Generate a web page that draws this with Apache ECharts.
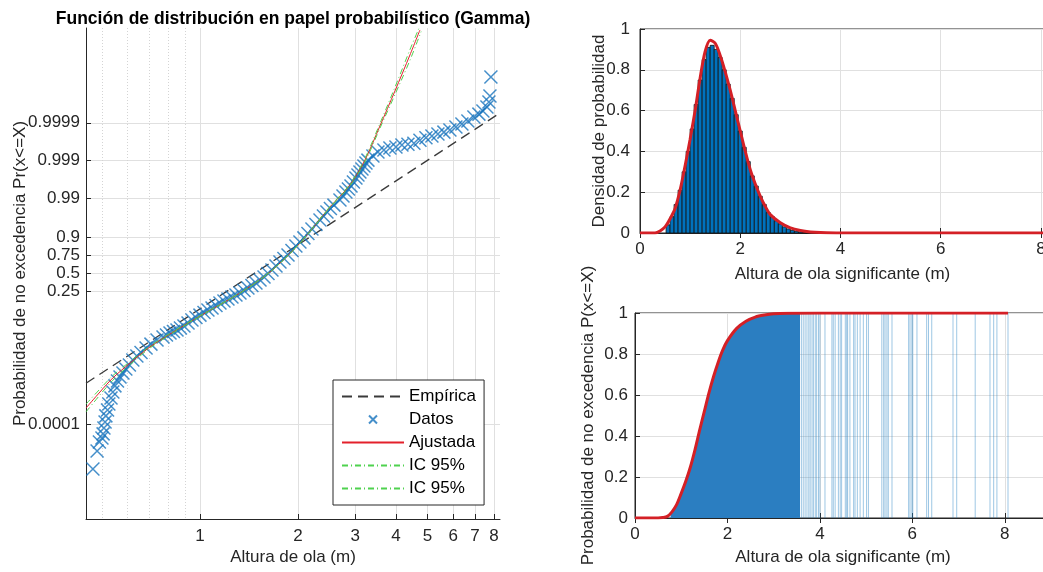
<!DOCTYPE html>
<html>
<head>
<meta charset="utf-8">
<script src="https://cdn.jsdelivr.net/npm/echarts@6/dist/echarts.min.js"></script>
<style>
  html, body { margin: 0; padding: 0; background: #fff; }
  #chart { width: 1043px; height: 572px; }
</style>
</head>
<body>
<div id="chart"></div>
<script>
// ---- Probability paper (left panel): wave height Hs (m) vs non-exceedance probability ----
const datosHs = [0.469, 0.483, 0.491, 0.500, 0.504, 0.507, 0.511, 0.514, 0.520, 0.525, 0.533, 0.540, 0.548, 0.558, 0.568, 0.580, 0.592, 0.607, 0.622, 0.640,
  0.659, 0.683, 0.707, 0.738, 0.770, 0.789, 0.809, 0.829, 0.850, 0.871, 0.893, 0.919, 0.945, 0.972, 1.000, 1.029, 1.058, 1.089, 1.120, 1.152,
  1.185, 1.219, 1.254, 1.290, 1.327, 1.365, 1.404, 1.444, 1.486, 1.529, 1.573, 1.618, 1.664, 1.712, 1.761, 1.811, 1.864, 1.917, 1.971, 2.028,
  2.086, 2.146, 2.208, 2.271, 2.337, 2.395, 2.455, 2.516, 2.580, 2.692, 2.750, 2.808, 2.858, 2.910, 2.961, 3.014, 3.057, 3.100, 3.145, 3.189,
  3.235, 3.281, 3.399, 3.522, 3.674, 3.833, 4.000, 4.173, 4.354, 4.542, 4.740, 4.945, 5.159, 5.383, 5.616, 5.859, 6.113, 6.378, 6.654, 6.942,
  7.193, 7.400, 7.613, 7.722, 7.777, 7.831];
const datosP = [6.5e-6, 1.96e-5, 3.39e-5, 4.31e-5, 5.55e-5, 7.94e-5, 1.15e-4, 1.67e-4, 2.39e-4, 3.46e-4, 4.95e-4, 7.17e-4, 1.04e-3, 1.40e-3, 1.80e-3, 2.28e-3, 2.93e-3, 3.72e-3, 5.06e-3, 6.43e-3,
  7.92e-3, 0.0104, 0.0132, 0.0170, 0.0202, 0.0228, 0.0258, 0.0281, 0.0308, 0.0346, 0.0388, 0.0463, 0.0552, 0.0637, 0.0730, 0.0845, 0.0971, 0.1083, 0.1245, 0.1417,
  0.157, 0.174, 0.192, 0.212, 0.233, 0.261, 0.291, 0.325, 0.359, 0.402, 0.448, 0.500, 0.552, 0.613, 0.668, 0.714, 0.756, 0.803, 0.843, 0.8726,
  0.898, 0.920, 0.938, 0.9523, 0.9634, 0.9711, 0.9772, 0.98149, 0.9849, 0.9889, 0.99128, 0.99318, 0.99430, 0.99527, 0.99627, 0.99707, 0.99757, 0.99797, 0.99831, 0.99860,
  0.99883, 0.99902, 0.99924, 0.99940, 0.99947, 0.99953, 0.99956, 0.99961, 0.99963, 0.99965, 0.99971, 0.99975, 0.999775, 0.999801, 0.999823, 0.999845, 0.999870, 0.999892, 0.9999105, 0.9999295,
  0.999941, 0.9999513, 0.9999617, 0.9999719, 0.9999804, 0.9999939];

const ajustadaHs = [0.4466, 0.493, 0.540, 0.610, 0.702, 0.809, 1.0, 1.327, 1.641, 2.028, 2.507, 2.888, 3.212, 3.571, 3.971, 4.416, 4.740];
const ajustadaP = [2.69e-4, 7.17e-4, 1.69e-3, 4.19e-3, 0.0111, 0.0241, 0.0691, 0.233, 0.523, 0.865, 0.9830, 0.99554, 0.99902, 0.999878, 0.9999856, 0.99999841, 0.999999655];

const icSupHs = [0.4466, 0.493, 0.540, 0.610, 0.702, 0.809, 1.0, 1.327, 1.641, 2.028, 2.507, 2.888, 3.212, 3.571, 3.971, 4.416, 4.700];
const icSupP = [3.42e-4, 8.6e-4, 1.95e-3, 4.6e-3, 0.0118, 0.0251, 0.0705, 0.235, 0.525, 0.867, 0.9835, 0.99575, 0.99912, 0.999895, 0.9999885, 0.99999885, 0.99999968];
const icInfHs = [0.4466, 0.493, 0.540, 0.610, 0.702, 0.809, 1.0, 1.327, 1.641, 2.028, 2.507, 2.888, 3.212, 3.571, 3.971, 4.416, 4.780];
const icInfP = [2.12e-4, 6.0e-4, 1.47e-3, 3.8e-3, 0.0104, 0.0231, 0.0677, 0.231, 0.521, 0.863, 0.9825, 0.99530, 0.99890, 0.999860, 0.999982, 0.9999978, 0.99999962];

const empiricaHs = [0.4466, 8.35];
const empiricaP = [0.00122, 0.999945];

const probTicks = [0.0001, 0.25, 0.5, 0.75, 0.9, 0.99, 0.999, 0.9999];
const probTickLabels = ['0.0001', '0.25', '0.5', '0.75', '0.9', '0.99', '0.999', '0.9999'];
const hsTicks = [1, 2, 3, 4, 5, 6, 7, 8];
const hsMinorTicks = [0.5, 0.6, 0.7, 0.8, 0.9];

// ---- Histogram and fitted density (top right) ----
const binWidth = 0.08;
const binCenters = [0.56, 0.64, 0.72, 0.80, 0.88, 0.96, 1.04, 1.12, 1.20, 1.28, 1.36, 1.44, 1.52, 1.60, 1.68, 1.76, 1.84, 1.92, 2.00, 2.08,
  2.16, 2.24, 2.32, 2.40, 2.48, 2.56, 2.64, 2.72, 2.80, 2.88, 2.96, 3.04, 3.12, 3.20, 3.28, 3.36];
const binHeights = [0.04, 0.08, 0.14, 0.21, 0.30, 0.40, 0.51, 0.63, 0.75, 0.85, 0.91, 0.92, 0.90, 0.86, 0.80, 0.73, 0.66, 0.58, 0.50, 0.42,
  0.35, 0.28, 0.23, 0.18, 0.14, 0.10, 0.08, 0.06, 0.045, 0.03, 0.02, 0.013, 0.008, 0.005, 0.003, 0.002];
const pdfHs = [0, 0.3, 0.4, 0.5, 0.6, 0.7, 0.8, 0.9, 1.0, 1.1, 1.2, 1.3, 1.4, 1.5, 1.6, 1.7, 1.8, 1.9, 2.0, 2.1,
  2.2, 2.3, 2.4, 2.5, 2.6, 2.8, 3.0, 3.2, 3.4, 3.6, 4.0, 5.0, 6.0, 7.0, 8.07];
const pdfVal = [0, 0, 0.01, 0.03, 0.07, 0.12, 0.21, 0.33, 0.46, 0.60, 0.76, 0.89, 0.945, 0.93, 0.87, 0.79, 0.70, 0.60, 0.50, 0.40,
  0.31, 0.24, 0.18, 0.13, 0.09, 0.05, 0.025, 0.012, 0.005, 0.002, 0, 0, 0, 0, 0];

// ---- Distribution function (bottom right) ----
const cdfHs = [0, 0.5, 0.6, 0.7, 0.8, 0.9, 1.0, 1.1, 1.2, 1.3, 1.4, 1.5, 1.6, 1.7, 1.8, 1.9, 2.0, 2.2, 2.4, 2.6, 2.8, 3.0, 3.3, 4.0, 8.07];
const cdfVal = [0, 0, 0.002, 0.008, 0.03, 0.065, 0.12, 0.18, 0.25, 0.335, 0.43, 0.52, 0.61, 0.69, 0.76, 0.82, 0.865, 0.925, 0.96, 0.98, 0.99, 0.996, 0.999, 1, 1];
const ecdfHs = [0.77, 0.8, 0.9, 1.0, 1.1, 1.2, 1.3, 1.4, 1.5, 1.6, 1.7, 1.8, 1.9, 2.0, 2.2, 2.4, 2.6, 2.8, 3.0, 3.3, 3.57];
const ecdfVal = [0.02, 0.03, 0.065, 0.12, 0.18, 0.25, 0.335, 0.43, 0.52, 0.61, 0.69, 0.76, 0.82, 0.865, 0.925, 0.96, 0.98, 0.99, 0.996, 0.999, 1];
const tailHs = [3.60, 3.64, 3.68, 3.72, 3.76, 3.79, 3.83, 3.86, 3.90, 3.93, 3.97, 4.00, 4.11, 4.26, 4.29, 4.33, 4.40, 4.44, 4.47, 4.55,
  4.58, 4.60, 4.65, 4.73, 4.76, 4.81, 4.87, 4.94, 5.01, 5.05, 5.34, 5.38, 5.41, 5.45, 5.48, 5.56, 5.92, 5.95, 5.99, 6.01,
  6.10, 6.31, 6.35, 6.42, 6.88, 6.96, 7.36, 7.68, 7.76, 7.83, 8.07];

// ---- styling helpers ----
const FONT = 'Liberation Sans, Arial, Helvetica, sans-serif';
const INK = '#262626';
const GRID_C = '#e0e0e0';
const FS = 17;
const logit = p => Math.log(p / (1 - p));
const pairs = (xs, ys, f) => xs.map((x, i) => [x, f ? f(ys[i]) : ys[i]]);
const probPairs = (xs, ps) => pairs(xs, ps, logit);

const labelStyle = { fontFamily: FONT, fontSize: FS, color: INK };
const nameStyle = { fontFamily: FONT, fontSize: FS, color: INK };

function linAxis(gridIndex, min, max, interval, ticks, extra) {
  return Object.assign({
    type: 'value', gridIndex, min, max, interval,
    axisLine: { show: true, onZero: false, lineStyle: { color: INK, width: 1 } },
    axisTick: { show: true, inside: true, length: 5, lineStyle: { color: INK }, customValues: ticks },
    axisLabel: Object.assign({ customValues: ticks }, labelStyle),
    splitLine: { show: true, lineStyle: { color: GRID_C, width: 1 } },
    nameTextStyle: nameStyle,
    nameLocation: 'middle',
    nameMoveOverlap: false
  }, extra || {});
}

const chart = echarts.init(document.getElementById('chart'), null, { renderer: 'canvas' });

const probTickValues = probTicks.map(logit);
const hiddenSymbol = { opacity: 0 };

const option = {
  animation: false,
  backgroundColor: '#fff',
  textStyle: { fontFamily: FONT },
  title: {
    text: 'Función de distribución en papel probabilístico (Gamma)',
    left: 288, top: 5, textAlign: 'center',
    textStyle: { fontFamily: FONT, fontSize: 17.5, fontWeight: 'bold', color: '#000' }
  },
  legend: {
    left: 333, top: 380, orient: 'vertical', align: 'left',
    itemWidth: 62, itemHeight: 14, itemGap: 6, padding: [8, 8, 8, 8],
    backgroundColor: '#fff', borderColor: INK, borderWidth: 1, borderRadius: 0,
    selectedMode: false, z: 20,
    textStyle: { fontFamily: FONT, fontSize: FS, color: '#000' },
    data: [
      { name: 'Empírica', itemStyle: hiddenSymbol },
      { name: 'Datos', icon: 'path://M0,0M14,14M3,3L11,11M11,3L3,11' },
      { name: 'Ajustada', itemStyle: hiddenSymbol },
      { name: 'IC 95%', itemStyle: hiddenSymbol },
      { name: 'IC 95% ', itemStyle: hiddenSymbol }
    ]
  },
  grid: [
    { left: 86, top: 28, width: 414, height: 491, show: false, outerBoundsMode: 'none' },
    { left: 640, top: 29, width: 405, height: 204, show: true, borderColor: INK, borderWidth: 1, backgroundColor: 'transparent', outerBoundsMode: 'none' },
    { left: 635, top: 313, width: 416, height: 205, show: true, borderColor: INK, borderWidth: 1, backgroundColor: 'transparent', outerBoundsMode: 'none' }
  ],
  xAxis: [
    {
      type: 'log', logBase: 10, gridIndex: 0, min: 0.4466, max: 8.35,
      axisLine: { show: true, onZero: false, lineStyle: { color: INK } },
      axisTick: { show: true, inside: true, length: 5, lineStyle: { color: INK }, customValues: hsTicks },
      axisLabel: Object.assign({ customValues: hsTicks, margin: 9 }, labelStyle),
      splitLine: { show: true, lineStyle: { color: GRID_C } },
      minorTick: { show: false }, minorSplitLine: { show: false },
      name: 'Altura de ola (m)', nameLocation: 'middle', nameGap: 30, nameTextStyle: nameStyle, nameMoveOverlap: false
    },
    {
      type: 'log', logBase: 10, gridIndex: 0, min: 0.4466, max: 8.35,
      axisLine: { show: false },
      axisTick: { show: false, customValues: hsMinorTicks },
      axisLabel: { show: false, customValues: hsMinorTicks },
      splitLine: { show: true, lineStyle: { color: '#d4d4d4', type: [1, 2] } }
    },
    linAxis(1, 0, 8.08, 2, [0, 2, 4, 6, 8], {
      name: 'Altura de ola significante (m)', nameGap: 33,
      axisLabel: Object.assign({ customValues: [0, 2, 4, 6, 8], margin: 8 }, labelStyle)
    }),
    linAxis(1, 0, 8.08, 2, [0, 2, 4, 6, 8], {
      position: 'top', axisLine: { show: false }, axisLabel: { show: false, customValues: [0, 2, 4, 6, 8] }, splitLine: { show: false }
    }),
    linAxis(2, 0, 9, 2, [0, 2, 4, 6, 8], {
      name: 'Altura de ola significante (m)', nameGap: 31,
      axisLabel: Object.assign({ customValues: [0, 2, 4, 6, 8], margin: 8 }, labelStyle)
    }),
    linAxis(2, 0, 9, 2, [0, 2, 4, 6, 8], {
      position: 'top', axisLine: { show: false }, axisLabel: { show: false, customValues: [0, 2, 4, 6, 8] }, splitLine: { show: false }
    })
  ],
  yAxis: [
    {
      type: 'value', gridIndex: 0, min: -15, max: 15,
      axisLine: { show: true, onZero: false, lineStyle: { color: INK } },
      axisTick: { show: true, inside: true, length: 5, lineStyle: { color: INK }, customValues: probTickValues },
      axisLabel: Object.assign({
        customValues: probTickValues, margin: 6,
        formatter: v => {
          const i = probTickValues.findIndex(t => Math.abs(t - v) < 1e-6);
          return i >= 0 ? probTickLabels[i] : '';
        }
      }, labelStyle),
      splitLine: { show: true, lineStyle: { color: GRID_C } },
      name: 'Probabilidad de no excedencia Pr(x<=X)', nameLocation: 'middle', nameGap: 57,
      nameTextStyle: nameStyle, nameMoveOverlap: false
    },
    linAxis(1, 0, 1, 0.2, [0, 0.2, 0.4, 0.6, 0.8, 1], {
      name: 'Densidad de probabilidad', nameGap: 32,
      axisLabel: Object.assign({ customValues: [0, 0.2, 0.4, 0.6, 0.8, 1], margin: 10 }, labelStyle)
    }),
    linAxis(2, 0, 1, 0.2, [0, 0.2, 0.4, 0.6, 0.8, 1], {
      name: 'Probabilidad de no excedencia P(x<=X)', nameGap: 38,
      axisLabel: Object.assign({ customValues: [0, 0.2, 0.4, 0.6, 0.8, 1], margin: 7 }, labelStyle)
    })
  ],
  series: [
    // left panel
    {
      name: 'Empírica', type: 'line', xAxisIndex: 0, yAxisIndex: 0, z: 3,
      data: probPairs(empiricaHs, empiricaP), symbol: 'none',
      itemStyle: { color: '#3a3a3a' },
      lineStyle: { color: '#3a3a3a', width: 1.3, type: [10, 6] }
    },
    {
      name: 'Datos', type: 'scatter', xAxisIndex: 0, yAxisIndex: 0, z: 4,
      data: probPairs(datosHs, datosP),
      symbol: 'path://M0,0L10,10M10,0L0,10', symbolSize: 13, symbolKeepAspect: true,
      itemStyle: { color: 'rgba(0,0,0,0)', borderColor: '#1673bd', borderWidth: 1.5 }
    },
    {
      name: 'Ajustada', type: 'line', xAxisIndex: 0, yAxisIndex: 0, z: 5,
      data: probPairs(ajustadaHs, ajustadaP), symbol: 'none', smooth: 0.3,
      itemStyle: { color: '#e3202b' },
      lineStyle: { color: '#e3202b', width: 1 }
    },
    {
      name: 'IC 95%', type: 'line', xAxisIndex: 0, yAxisIndex: 0, z: 6,
      data: probPairs(icSupHs, icSupP), symbol: 'none', smooth: 0.3,
      itemStyle: { color: '#4fd24f' },
      lineStyle: { color: '#4fd24f', width: 1, type: [6, 3, 1, 3] }
    },
    {
      name: 'IC 95% ', type: 'line', xAxisIndex: 0, yAxisIndex: 0, z: 6,
      data: probPairs(icInfHs, icInfP), symbol: 'none', smooth: 0.3,
      itemStyle: { color: '#4fd24f' },
      lineStyle: { color: '#4fd24f', width: 1, type: [6, 3, 1, 3] }
    },
    // top right: histogram + fitted density
    {
      type: 'custom', xAxisIndex: 2, yAxisIndex: 1, z: 3,
      data: pairs(binCenters, binHeights),
      renderItem: (params, api) => {
        const c = api.value(0), h = api.value(1);
        const p0 = api.coord([c - binWidth / 2, h]);
        const p1 = api.coord([c + binWidth / 2, 0]);
        return {
          type: 'rect',
          shape: { x: p0[0], y: p0[1], width: p1[0] - p0[0], height: p1[1] - p0[1] },
          style: { fill: '#0072BD', stroke: '#111', lineWidth: 0.8 }
        };
      }
    },
    {
      type: 'line', xAxisIndex: 2, yAxisIndex: 1, z: 5,
      data: pairs(pdfHs, pdfVal), symbol: 'none', smooth: 0.3,
      lineStyle: { color: '#d42026', width: 3 }
    },
    // bottom right: empirical steps + fitted distribution
    {
      type: 'line', xAxisIndex: 4, yAxisIndex: 2, z: 2,
      data: pairs(ecdfHs, ecdfVal), symbol: 'none',
      lineStyle: { width: 0 },
      areaStyle: { color: '#2b7ec1', opacity: 1 }
    },
    {
      type: 'custom', xAxisIndex: 4, yAxisIndex: 2, z: 3,
      data: pairs(tailHs, tailHs.map(() => 1)),
      renderItem: (params, api) => {
        const a = api.coord([api.value(0), 0]);
        const b = api.coord([api.value(0), api.value(1)]);
        return {
          type: 'line',
          shape: { x1: a[0], y1: a[1], x2: b[0], y2: b[1] },
          style: { stroke: 'rgba(40,130,195,0.45)', lineWidth: 1 }
        };
      }
    },
    {
      type: 'line', xAxisIndex: 4, yAxisIndex: 2, z: 5,
      data: pairs(cdfHs, cdfVal), symbol: 'none', smooth: 0.3,
      lineStyle: { color: '#d42026', width: 3 }
    }
  ]
};

chart.setOption(option);
</script>
</body>
</html>
